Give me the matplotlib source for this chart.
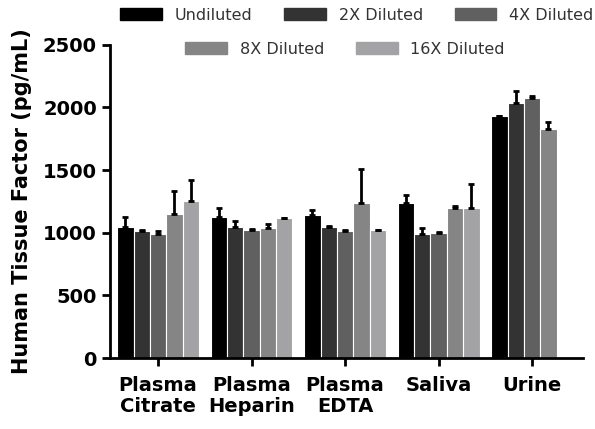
import numpy as np
import matplotlib.pyplot as plt
from matplotlib.patches import Patch

# ======================== data ========================
samples = ['Plasma\nCitrate', 'Plasma\nHeparin', 'Plasma\nEDTA', 'Saliva', 'Urine']
dilutions = ['Undiluted', '2X Diluted', '4X Diluted', '8X Diluted', '16X Diluted']

undiluted = [1045, 1125, 1140, 1235, 1930]
x2 = [1010, 1045, 1045, 990, 2035]
x4 = [990, 1020, 1015, 995, 2075]
x8 = [1150, 1040, 1235, 1200, 1825]
x16 = [1255, 1115, 1020, 1200, np.nan]

err_undiluted = [80, 70, 40, 65, 0]
err_x2 = [8, 45, 5, 50, 100]
err_x4 = [20, 10, 8, 10, 20]
err_x8 = [185, 30, 270, 10, 60]
err_x16 = [165, 0, 0, 190, 0]

means = [undiluted, x2, x4, x8, x16]
errs = [err_undiluted, err_x2, err_x4, err_x8, err_x16]
colors = ['#000000', '#333333', '#606060', '#858585', '#a3a3a6']

# ======================== plot ========================
plt.rcParams['font.family'] = ['DejaVu Sans']
fig = plt.figure(figsize=(5.95, 4.29), dpi=100)
ax = fig.add_axes([0.185, 0.1655, 0.795, 0.73])

x = np.arange(len(samples))
w = 0.175
for i in range(len(dilutions)):
    pos = x + (i - 2) * w
    ax.bar(pos, means[i], w, color=colors[i], edgecolor='white', linewidth=0.8,
           yerr=[np.zeros(len(samples)), errs[i]], capsize=2,
           error_kw=dict(ecolor='black', elinewidth=2, capthick=2))

ax.set_xlim(-0.513, 4.545)
ax.set_ylim(0, 2500)
ax.set_yticks([0, 500, 1000, 1500, 2000, 2500])
ax.set_xticks(x)
ax.set_xticklabels(samples, fontsize=14, fontweight='bold', linespacing=1.1)
ax.tick_params(axis='y', labelsize=14, width=2, length=6)
ax.tick_params(axis='x', width=2, length=6, pad=7)
for lbl in ax.get_yticklabels():
    lbl.set_fontweight('bold')
ax.spines['top'].set_visible(False)
ax.spines['right'].set_visible(False)
ax.spines['left'].set_linewidth(2)
ax.spines['bottom'].set_linewidth(2)
ax.set_ylabel('Human Tissue Factor (pg/mL)', fontsize=15, fontweight='bold', labelpad=8)

handles = [Patch(facecolor=c, edgecolor=c) for c in colors]
leg1 = fig.legend(handles[:3], dilutions[:3], loc='center', bbox_to_anchor=(0.6, 0.965),
                  ncol=3, frameon=False, fontsize=11.5, handlelength=2.6, handleheight=0.8,
                  columnspacing=2.0, labelcolor='#333333')
leg2 = fig.legend(handles[3:], dilutions[3:], loc='center', bbox_to_anchor=(0.58, 0.885),
                  ncol=2, frameon=False, fontsize=11.5, handlelength=2.6, handleheight=0.8,
                  columnspacing=2.0, labelcolor='#333333')

plt.savefig('out.png', dpi=100)
